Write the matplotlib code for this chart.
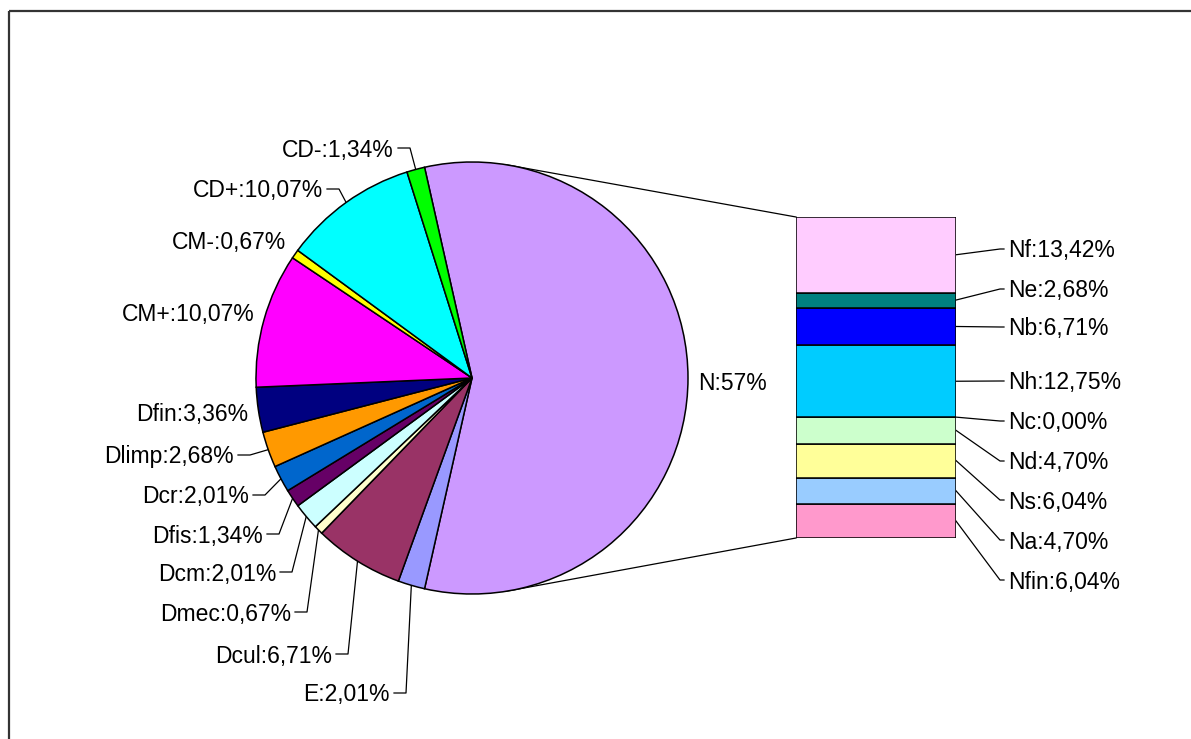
import numpy as np
import matplotlib
matplotlib.use("Agg")
import matplotlib.pyplot as plt
from matplotlib.patches import Rectangle

plt.rcParams["font.family"] = ["Liberation Sans", "DejaVu Sans"]

# pie, clockwise from the exploded "N" slice
pie_labels = ["N", "E", "Dcul", "Dmec", "Dcm", "Dfis", "Dcr", "Dlimp", "Dfin",
              "CM+", "CM-", "CD+", "CD-"]
pie_values = [57.04, 2.01, 6.71, 0.67, 2.01, 1.34, 2.01, 2.68, 3.36,
              10.07, 0.67, 10.07, 1.34]
pie_text = ["N:57%", "E:2,01%", "Dcul:6,71%", "Dmec:0,67%", "Dcm:2,01%",
            "Dfis:1,34%", "Dcr:2,01%", "Dlimp:2,68%", "Dfin:3,36%",
            "CM+:10,07%", "CM-:0,67%", "CD+:10,07%", "CD-:1,34%"]
pie_colors = ["#CC99FF", "#9999FF", "#993366", "#FFFFCC", "#CCFFFF", "#660066",
              "#0066CC", "#FF9900", "#000080", "#FF00FF", "#FFFF00", "#00FFFF",
              "#00FF00"]

# breakdown of N, top to bottom
bar_labels = ["Nf", "Ne", "Nb", "Nh", "Nc", "Nd", "Ns", "Na", "Nfin"]
bar_values = [13.42, 2.68, 6.71, 12.75, 0.00, 4.70, 6.04, 4.70, 6.04]
bar_text = ["Nf:13,42%", "Ne:2,68%", "Nb:6,71%", "Nh:12,75%", "Nc:0,00%",
            "Nd:4,70%", "Ns:6,04%", "Na:4,70%", "Nfin:6,04%"]
bar_colors = ["#FFCCFF", "#008080", "#0000FF", "#00CCFF", "#CCFFFF",
              "#CCFFCC", "#FFFF99", "#99CCFF", "#FF99CC"]

W, H = 1191, 739
fig = plt.figure(figsize=(W / 100, H / 100), dpi=100)

# layout in pixels (top-left origin)
cx, cy, r = 472, 378, 216
bx0, bx1, by0, by1 = 796, 956, 217, 538

def fig_rect(x0, y0, x1, y1):
    return [x0 / W, 1 - y1 / H, (x1 - x0) / W, (y1 - y0) / H]

# overlay for frame, labels and leader lines
ov = fig.add_axes([0, 0, 1, 1])
ov.set_xlim(0, W)
ov.set_ylim(H, 0)
ov.axis("off")
ov.add_patch(Rectangle((9, 11), W + 20, H + 20, fill=False, ec="#333333", lw=1.6))

ax1 = fig.add_axes(fig_rect(cx - r, cy - r, cx + r, cy + r))
start = sum(pie_values[:1]) / sum(pie_values) * 360 / 2
wedges, _ = ax1.pie(pie_values, colors=pie_colors, startangle=start, counterclock=False,
                    radius=1, wedgeprops=dict(edgecolor="black", linewidth=1.1))
ax1.set_xlim(-1, 1)
ax1.set_ylim(-1, 1)
ax1.axis("off")

ax2 = fig.add_axes(fig_rect(bx0, by0, bx1, by1))
vals = bar_values[::-1]
bottoms = np.concatenate([[0], np.cumsum(vals)[:-1]])
ax2.bar(0, vals, bottom=bottoms, width=1, color=bar_colors[::-1],
        edgecolor="black", linewidth=1.1)
ax2.set_xlim(-0.5, 0.5)
ax2.set_ylim(0, sum(bar_values))
ax2.axis("off")

fs = 16.5
dy = 2  # text baseline nudge

# pie labels: (x anchor, y, leader?, alignment)
pie_pos = {
    "N": (698, 381, False, "left"),
    "E": (390, 693, True, "right"),
    "Dcul": (332, 654, True, "right"),
    "Dmec": (291, 612, True, "right"),
    "Dcm": (276, 572, True, "right"),
    "Dfis": (263, 534, True, "right"),
    "Dcr": (249, 495, True, "right"),
    "Dlimp": (234, 455, True, "right"),
    "Dfin": (248, 412, False, "right"),
    "CM+": (255, 313, False, "right"),
    "CM-": (286, 240, False, "right"),
    "CD+": (323, 189, True, "right"),
    "CD-": (394, 148, True, "right"),
}
for w, lab, txt in zip(wedges, pie_labels, pie_text):
    x, y, lead, ha = pie_pos[lab]
    ov.text(x, y + dy, txt, fontsize=fs, ha=ha, va="center")
    if lead:
        mid = np.deg2rad((w.theta1 + w.theta2) / 2)
        px, py = cx + r * np.cos(mid), cy - r * np.sin(mid)
        ov.plot([x + 4, x + 16, px], [y, y, py], color="black", lw=0.9)

# connector lines between pie and bar
ang = np.deg2rad(81)
ov.plot([cx + r * np.cos(ang), bx0], [cy - r * np.sin(ang), by0], color="black", lw=0.9)
ov.plot([cx + r * np.cos(ang), bx0], [cy + r * np.sin(ang), by1], color="black", lw=0.9)

# bar labels
bar_label_y = [249, 289, 327, 381, 421, 461, 500, 540, 580]
scale = (by1 - by0) / sum(bar_values)
top = by0
for v, txt, ly in zip(bar_values, bar_text, bar_label_y):
    my = top + v * scale / 2
    top += v * scale
    ov.plot([bx1, 1000, 1004], [my, ly, ly], color="black", lw=0.9)
    ov.text(1008, ly + dy, txt, fontsize=fs, ha="left", va="center")

fig.savefig("out.png", dpi=100)
